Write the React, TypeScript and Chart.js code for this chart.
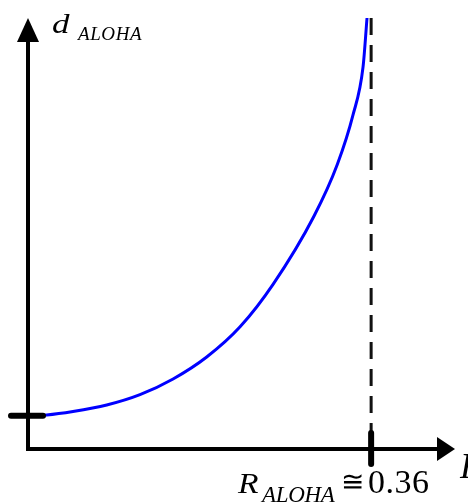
import React, { useEffect, useRef } from "react";
import { Chart, registerables } from "chart.js";

Chart.register(...registerables);

// Data (R = offered load, d = delay in arbitrary units)
const R_VALUES = [0, 0.0196, 0.0472, 0.0826, 0.1175, 0.1522, 0.1875, 0.2225, 0.2571, 0.3, 0.3245, 0.341, 0.3515, 0.3557];
const D_VALUES = [0.77, 0.79, 0.87, 1.02, 1.26, 1.624, 2.134, 2.835, 3.82, 5.4, 6.6, 7.75, 8.86, 10.0];
const R_CRIT = 0.36;
const X_MIN = 0;
const X_MAX = 0.448;
const Y_MIN = 0;
const Y_MAX = 10;
const Y_LABEL_MAIN = "d";
const X_LABEL_MAIN = "R";
const SUB_LABEL = "ALOHA";
const CRIT_TEXT = "0.36";

const axesPlugin = {
  id: "arrowAxes",
  afterDatasetsDraw(chart: any) {
    const { ctx } = chart;
    const x = chart.scales.x;
    const y = chart.scales.y;
    const x0 = x.getPixelForValue(X_MIN);
    const y0 = y.getPixelForValue(Y_MIN);
    const xEnd = x.getPixelForValue(X_MAX);
    const yEnd = y.getPixelForValue(Y_MAX);
    ctx.save();
    ctx.strokeStyle = "#000";
    ctx.fillStyle = "#000";
    ctx.lineWidth = 4;
    ctx.lineCap = "butt";
    ctx.lineJoin = "miter";
    ctx.beginPath();
    ctx.moveTo(x0, yEnd + 20);
    ctx.lineTo(x0, y0);
    ctx.lineTo(xEnd - 14, y0);
    ctx.stroke();
    // arrow heads
    ctx.beginPath();
    ctx.moveTo(x0, yEnd);
    ctx.lineTo(x0 - 11, yEnd + 24);
    ctx.lineTo(x0 + 11, yEnd + 24);
    ctx.closePath();
    ctx.fill();
    ctx.beginPath();
    ctx.moveTo(xEnd, y0);
    ctx.lineTo(xEnd - 18, y0 - 12);
    ctx.lineTo(xEnd - 18, y0 + 12);
    ctx.closePath();
    ctx.fill();
    // tick marks
    ctx.lineWidth = 6;
    ctx.lineCap = "round";
    const ty = y.getPixelForValue(D_VALUES[0]);
    ctx.beginPath();
    ctx.moveTo(x0 - 17, ty);
    ctx.lineTo(x0 + 15, ty);
    ctx.stroke();
    const tx = x.getPixelForValue(R_CRIT);
    ctx.beginPath();
    ctx.moveTo(tx, y0 - 16);
    ctx.lineTo(tx, y0 + 15);
    ctx.stroke();
    ctx.restore();
  },
};

const serif = '"Liberation Serif", "Times New Roman", serif';

function Label(props: { text: string; left: number; baseline: number; size: number; italic?: boolean; spacing?: number; stretch?: number }) {
  const { text, left, baseline, size, italic, spacing, stretch } = props;
  return (
    <span
      style={{
        position: "absolute",
        left,
        top: baseline - 0.8375 * size,
        fontFamily: serif,
        fontSize: size,
        lineHeight: 1,
        fontStyle: italic ? "italic" : "normal",
        letterSpacing: spacing ? spacing : 0,
        whiteSpace: "nowrap",
        color: "#000",
        transform: stretch ? `scaleX(${stretch})` : undefined,
        transformOrigin: "left bottom",
      }}
    >
      {text}
    </span>
  );
}

export default function App() {
  const canvasRef = useRef<HTMLCanvasElement | null>(null);

  useEffect(() => {
    document.body.style.margin = "0";
    document.body.style.overflow = "hidden";
    const canvas = canvasRef.current;
    if (!canvas) return;
    const chart = new Chart(canvas, {
      type: "line",
      data: {
        datasets: [
          {
            data: R_VALUES.map((r, i) => ({ x: r, y: D_VALUES[i] })),
            borderColor: "#0000FF",
            borderWidth: 3,
            pointRadius: 0,
            cubicInterpolationMode: "monotone",
            fill: false,
            clip: false as any,
          },
          {
            data: [
              { x: R_CRIT, y: Y_MAX },
              { x: R_CRIT, y: Y_MIN },
            ],
            borderColor: "#111",
            borderWidth: 3,
            borderDash: [17, 10],
            pointRadius: 0,
            fill: false,
          },
        ],
      },
      options: {
        animation: false,
        responsive: false,
        devicePixelRatio: 1,
        layout: { padding: { left: 28, top: 18, right: 13, bottom: 55 } },
        scales: {
          x: { type: "linear", min: X_MIN, max: X_MAX, display: false },
          y: { type: "linear", min: Y_MIN, max: Y_MAX, display: false },
        },
        plugins: { legend: { display: false }, tooltip: { enabled: false } },
        events: [],
      },
      plugins: [axesPlugin],
    });
    return () => chart.destroy();
  }, []);

  return (
    <div style={{ position: "relative", width: 468, height: 504, overflow: "hidden", background: "#fff" }}>
      <canvas ref={canvasRef} width={468} height={504} style={{ position: "absolute", left: 0, top: 0 }} />
      <Label text={Y_LABEL_MAIN} left={52} baseline={33} size={28} italic stretch={1.25} />
      <Label text={SUB_LABEL} left={78} baseline={40} size={19} italic spacing={0.6} />
      <Label text={X_LABEL_MAIN} left={238} baseline={493} size={30} italic stretch={1.12} />
      <Label text={SUB_LABEL} left={262} baseline={502} size={23} italic spacing={-0.3} />
      <Label text={"\u2245"} left={341} baseline={491} size={28} />
      <Label text={CRIT_TEXT} left={368} baseline={493} size={34} spacing={0.5} />
      <Label text={X_LABEL_MAIN} left={460} baseline={478} size={36} italic />
    </div>
  );
}
